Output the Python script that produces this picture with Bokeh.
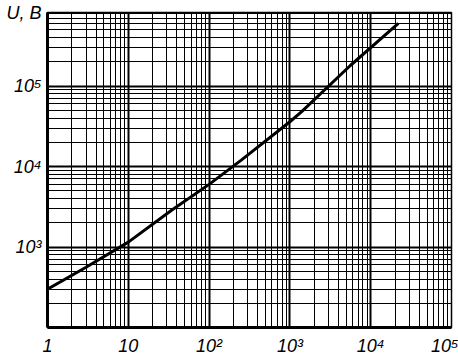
from bokeh.plotting import figure
from bokeh.models import FixedTicker
from bokeh.embed import file_html
from bokeh.resources import INLINE

# Data (log-log curve)
x_values = [1, 3, 10, 35, 100, 250, 1000, 1400, 5600, 22000]
u_values = [300, 560, 1150, 2900, 6000, 12000, 36000, 48000, 180000, 600000]

# Ticks and labels (the axis title "U, B" sits at the top end of the y axis)
y_top = 820000
x_major = [1, 10, 100, 1000, 10000, 100000]
x_labels = ["1", "10", "10²", "10³", "10⁴", "10⁵"]
y_major = [100, 1000, 10000, 100000, y_top]
y_labels = ["", "10³", "10⁴", "10⁵", "U, B"]
mantissas = [2, 3, 4, 5, 6, 7, 8, 9]
x_minor = [m * d for d in [1, 10, 100, 1000, 10000] for m in mantissas]
y_minor = [m * d for d in [100, 1000, 10000, 100000] for m in mantissas]

FONT = "Liberation Sans"

p = figure(width=458, height=358, x_axis_type="log", y_axis_type="log",
           x_range=(1, 100000), y_range=(100, y_top),
           output_backend="svg", toolbar_location=None,
           min_border_left=47, min_border_right=7,
           min_border_top=12, min_border_bottom=31)
p.background_fill_color = "white"
p.border_fill_color = "white"
p.outline_line_color = "black"
p.outline_line_width = 1.5

p.xaxis.ticker = FixedTicker(ticks=x_major, minor_ticks=x_minor)
p.yaxis.ticker = FixedTicker(ticks=y_major, minor_ticks=y_minor)
p.xaxis.major_label_overrides = dict(zip(x_major, x_labels))
p.yaxis.major_label_overrides = dict(zip(y_major, y_labels))

for ax in (p.xaxis, p.yaxis):
    ax.axis_line_width = 3
    ax.axis_line_color = "black"
    ax.major_tick_line_color = None
    ax.minor_tick_line_color = None
    ax.major_tick_out = 0
    ax.minor_tick_out = 0
    ax.major_label_text_font = FONT
    ax.major_label_text_font_style = "italic"
    ax.major_label_text_font_size = "18px"
    ax.major_label_text_color = "black"
p.xaxis.major_label_standoff = 8
p.yaxis.major_label_standoff = 6

for g in (p.xgrid, p.ygrid):
    g.grid_line_color = "black"
    g.grid_line_width = 2
    g.minor_grid_line_color = "black"
    g.minor_grid_line_width = 1

p.line(x_values, u_values, line_width=3, line_color="black")

open("out.html", "w").write(file_html(p, INLINE))
